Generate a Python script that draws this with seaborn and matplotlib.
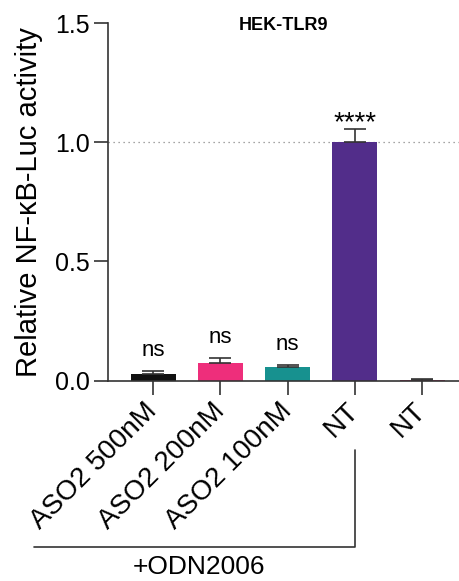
import numpy as np
import pandas as pd
import matplotlib
matplotlib.use("Agg")
import matplotlib.pyplot as plt
import matplotlib.transforms as mtransforms
import seaborn as sns

groups = ["ASO2 500nM", "ASO2 200nM", "ASO2 100nM", "NT +ODN", "NT"]
tick_labels = ["ASO2 500nM", "ASO2 200nM", "ASO2 100nM", "NT", "NT"]
means = [0.026, 0.075, 0.055, 1.0, 0.004]
errs = [0.013, 0.018, 0.009, 0.055, 0.002]
stars = ["ns", "ns", "ns", "****", ""]
colors = ["#111111", "#EE2E7B", "#17918F", "#522D8A", "#C4326B"]

df = pd.DataFrame({"group": groups, "value": means})

sns.set_style("ticks", {"text.color": "black", "axes.labelcolor": "black",
                        "xtick.color": "#333333", "ytick.color": "#333333"})
plt.rcParams["font.family"] = ["Liberation Sans", "DejaVu Sans"]

fig = plt.figure(figsize=(4.59, 5.81), dpi=100)
ax = fig.add_axes([0.2353, 0.345, 0.765, 0.6153])

sns.barplot(data=df, x="group", y="value", hue="group", palette=colors,
            legend=False, width=0.67, saturation=1, edgecolor="none", ax=ax)
ax.errorbar(range(len(means)), means, yerr=[np.zeros(len(errs)), errs],
            fmt="none", ecolor="#333333", elinewidth=1.2, capsize=8,
            capthick=1.2)

ax.axhline(1.0, color="#888888", lw=0.9, ls=(0, (1, 3)), zorder=0)

for i, s in enumerate(stars):
    if not s:
        continue
    if s == "ns":
        ax.annotate(s, (i, means[i] + errs[i]), xytext=(0, 11),
                    textcoords="offset points", ha="center", va="baseline",
                    fontsize=16)
    else:
        ax.annotate(s, (i, means[i] + errs[i]), xytext=(0, -1),
                    textcoords="offset points", ha="center", va="baseline",
                    fontsize=20)

ax.set_xlim(-0.67, 4.55)
ax.set_ylim(0, 1.5)
ax.set_yticks([0, 0.5, 1.0, 1.5])
ax.set_yticklabels(["0.0", "0.5", "1.0", "1.5"])
ax.set_xticks(range(len(tick_labels)))
ax.set_xticklabels(tick_labels, rotation=45, ha="right", va="center",
                   rotation_mode="anchor")
ax.tick_params(axis="both", length=10, width=1.2, color="#333333",
               labelcolor="black")
ax.tick_params(axis="y", labelsize=18, pad=3)
ax.tick_params(axis="x", labelsize=20, pad=9)
ax.set_xlabel("")
ax.set_ylabel("Relative NF-\u03baB-Luc activity", fontsize=21, labelpad=9)
ax.set_title("HEK-TLR9", fontsize=13, fontweight="bold", y=0.982, pad=0)

sns.despine(ax=ax)
for sp in ["left", "bottom"]:
    ax.spines[sp].set_linewidth(1.2)
    ax.spines[sp].set_color("#333333")

# bracket for +ODN2006 group
trans = mtransforms.blended_transform_factory(ax.transData, fig.transFigure)
ax.plot([-1.77, 3, 3], [0.0585, 0.0585, 0.2255], transform=trans,
        color="#333333", lw=1.2, clip_on=False)
ax.text(0.68, 0.024, "+ODN2006", transform=trans, ha="center",
        va="center", fontsize=19)

fig.savefig("out.png", dpi=100)
